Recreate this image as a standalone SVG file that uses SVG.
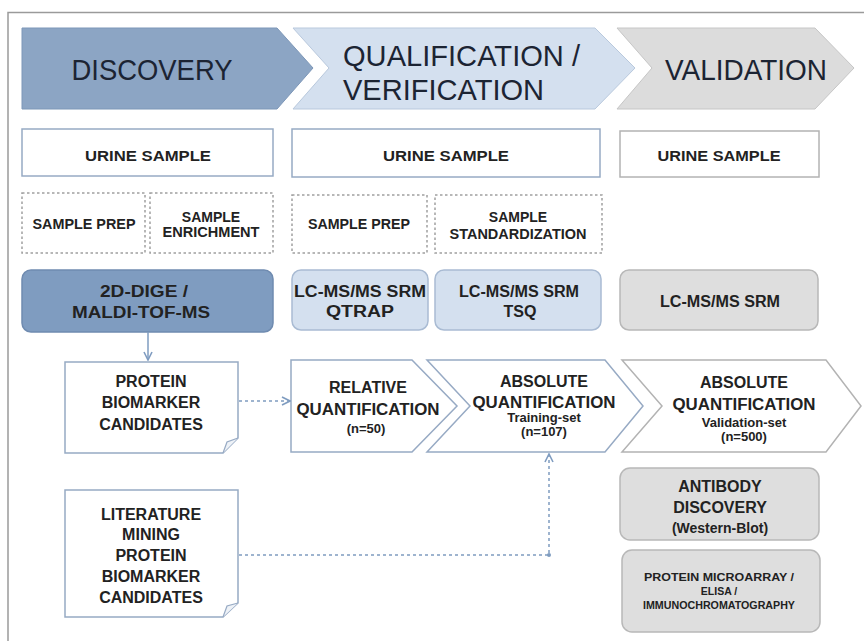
<svg xmlns="http://www.w3.org/2000/svg" width="864" height="641" viewBox="0 0 864 641">
<defs>
<style>
text{font-family:"Liberation Sans",Arial,sans-serif;fill:#222;text-anchor:middle}
.h{font-size:30px;fill:#1c2433}
.b{font-weight:bold;font-size:14px}
.m{font-weight:bold;font-size:16px}
.s{font-weight:bold;font-size:13px}
.xs{font-weight:bold;font-size:10.5px}
.white{fill:#fff;stroke:#97aac4;stroke-width:1.5}
.whiteg{fill:#fff;stroke:#b3b3b3;stroke-width:1.5}
.dash{fill:#fff;stroke:#a0a0a0;stroke-width:1.5;stroke-dasharray:2.5 2.5}
.dark{fill:#7f9cc0;stroke:#6f8bb0;stroke-width:1.5}
.light{fill:#d4e0ef;stroke:#a9bbd3;stroke-width:1.5}
.gray{fill:#dedede;stroke:#b8b8b8;stroke-width:1.5}
.conn{fill:none;stroke:#7f9cc0;stroke-width:1.5}
.dot{stroke-dasharray:3 3}
</style>
<marker id="arr" viewBox="0 0 10 10" refX="9" refY="5" markerWidth="10" markerHeight="10" markerUnits="userSpaceOnUse" orient="auto">
<path d="M1,1 L9,5 L1,9" fill="none" stroke="#7f9cc0" stroke-width="1.6"/>
</marker>
</defs>
<rect width="864" height="641" fill="#fff"/>
<path d="M8,641 V12.5 H864" fill="none" stroke="#9a9a9a" stroke-width="1.5"/>

<g id="hdr-discovery">
<path d="M22,28 H277 L313,68 L277,109 H22 Z" fill="#8ca5c4" stroke="#7d97b8" stroke-width="1"/>
<text class="h" x="152" y="80" textLength="161" lengthAdjust="spacingAndGlyphs">DISCOVERY</text>
</g>
<g id="hdr-qualification">
<path d="M293,28 H595 L635,68 L595,109 H293 L329,68 Z" fill="#d4e0ef" stroke="#b9c9dd" stroke-width="1"/>
<text class="h" x="343" y="66" style="text-anchor:start" textLength="237" lengthAdjust="spacingAndGlyphs">QUALIFICATION /</text>
<text class="h" x="343" y="100" style="text-anchor:start" textLength="201" lengthAdjust="spacingAndGlyphs">VERIFICATION</text>
</g>
<g id="hdr-validation">
<path d="M617,28 H815 L854,68 L815,109 H617 L652,68 Z" fill="#dcdcdc" stroke="#c6c6c6" stroke-width="1"/>
<text class="h" x="746" y="80" textLength="162" lengthAdjust="spacingAndGlyphs">VALIDATION</text>
</g>

<g id="urine1"><rect class="white" x="22" y="129" width="251" height="47"/><text class="b" x="148" y="161" textLength="126" lengthAdjust="spacingAndGlyphs">URINE SAMPLE</text></g>
<g id="urine2"><rect class="white" x="292" y="129" width="308" height="48"/><text class="b" x="446" y="161" textLength="126" lengthAdjust="spacingAndGlyphs">URINE SAMPLE</text></g>
<g id="urine3"><rect class="whiteg" x="620" y="131" width="199" height="46"/><text class="b" x="719" y="161" textLength="123" lengthAdjust="spacingAndGlyphs">URINE SAMPLE</text></g>

<g id="prep1"><rect class="dash" x="22" y="193" width="123" height="60"/><text class="b" x="84" y="229" textLength="103" lengthAdjust="spacingAndGlyphs">SAMPLE PREP</text></g>
<g id="enrich"><rect class="dash" x="150" y="193" width="123" height="60"/><text class="b" x="211" y="222">SAMPLE</text><text class="b" x="211" y="237" textLength="97" lengthAdjust="spacingAndGlyphs">ENRICHMENT</text></g>
<g id="prep2"><rect class="dash" x="292" y="195" width="135" height="58"/><text class="b" x="359" y="229" textLength="102" lengthAdjust="spacingAndGlyphs">SAMPLE PREP</text></g>
<g id="standard"><rect class="dash" x="435" y="195" width="167" height="58"/><text class="b" x="518" y="222">SAMPLE</text><text class="b" x="518" y="239" textLength="137" lengthAdjust="spacingAndGlyphs">STANDARDIZATION</text></g>

<g id="dige"><rect class="dark" x="22" y="270" width="251" height="62" rx="9"/><text class="m" x="144" y="297" textLength="88" lengthAdjust="spacingAndGlyphs">2D-DIGE /</text><text class="m" x="141" y="318" textLength="138" lengthAdjust="spacingAndGlyphs">MALDI-TOF-MS</text></g>
<g id="qtrap"><rect class="light" x="292" y="270" width="136" height="60" rx="9"/><text class="m" x="360" y="297" textLength="132" lengthAdjust="spacingAndGlyphs">LC-MS/MS SRM</text><text class="m" x="360" y="317" textLength="68" lengthAdjust="spacingAndGlyphs">QTRAP</text></g>
<g id="tsq"><rect class="light" x="435" y="270" width="166" height="60" rx="9"/><text class="m" x="519" y="297" textLength="120" lengthAdjust="spacingAndGlyphs">LC-MS/MS SRM</text><text class="m" x="520" y="317">TSQ</text></g>
<g id="srm"><rect class="gray" x="620" y="270" width="198" height="60" rx="9"/><text class="m" x="720" y="307" textLength="120" lengthAdjust="spacingAndGlyphs">LC-MS/MS SRM</text></g>

<g id="candidates">
<path class="white" d="M65,362 H238 V438 L223,453 H65 Z"/>
<path d="M223,453 L227,442 L238,438" fill="#eef2f7" stroke="#97aac4" stroke-width="1.2"/>
<text class="m" x="151" y="387">PROTEIN</text><text class="m" x="151" y="408">BIOMARKER</text><text class="m" x="151" y="430">CANDIDATES</text>
</g>
<g id="literature">
<path class="white" d="M65,490 H238 V603 L223,617 H65 Z"/>
<path d="M223,617 L227,606 L238,603" fill="#eef2f7" stroke="#97aac4" stroke-width="1.2"/>
<text class="m" x="151" y="520">LITERATURE</text><text class="m" x="151" y="540">MINING</text><text class="m" x="151" y="561">PROTEIN</text><text class="m" x="151" y="582">BIOMARKER</text><text class="m" x="151" y="603">CANDIDATES</text>
</g>

<g id="relative">
<path class="white" d="M291,360 H412 L457,406 L412,452 H291 Z"/>
<text class="m" x="368" y="393">RELATIVE</text><text class="m" x="368" y="415" textLength="143" lengthAdjust="spacingAndGlyphs">QUANTIFICATION</text><text class="s" x="366" y="433">(n=50)</text>
</g>
<g id="abs-training">
<path class="white" d="M427,360 H605 L643,406 L605,452 H427 L470,406 Z"/>
<text class="m" x="544" y="387">ABSOLUTE</text><text class="m" x="544" y="408" textLength="143" lengthAdjust="spacingAndGlyphs">QUANTIFICATION</text><text class="s" x="544" y="422">Training-set</text><text class="s" x="544" y="436">(n=107)</text>
</g>
<g id="abs-validation">
<path class="whiteg" d="M622,360 H826 L861,406 L826,452 H622 L662,406 Z"/>
<text class="m" x="744" y="388">ABSOLUTE</text><text class="m" x="744" y="410" textLength="143" lengthAdjust="spacingAndGlyphs">QUANTIFICATION</text><text class="s" x="744" y="427">Validation-set</text><text class="s" x="744" y="441">(n=500)</text>
</g>

<g id="antibody"><rect class="gray" x="620" y="468" width="199" height="72" rx="10"/><text class="m" x="720" y="492">ANTIBODY</text><text class="m" x="720" y="513">DISCOVERY</text><text class="s" x="720" y="533" style="font-size:14px">(Western-Blot)</text></g>
<g id="microarray"><rect class="gray" x="622" y="550" width="198" height="82" rx="10"/><text class="xs" x="719" y="581" textLength="150" lengthAdjust="spacingAndGlyphs">PROTEIN MICROARRAY /</text><text class="xs" x="719" y="595">ELISA /</text><text class="xs" x="719" y="609" textLength="152" lengthAdjust="spacingAndGlyphs">IMMUNOCHROMATOGRAPHY</text></g>

<g id="connectors">
<path class="conn" d="M148,332 V360" marker-end="url(#arr)"/>
<path class="conn dot" d="M239,401 H290" marker-end="url(#arr)"/>
<path class="conn dot" d="M239,555 H549 V454" marker-end="url(#arr)"/>
<circle cx="549" cy="555" r="2" fill="#7f9cc0"/>
</g>
</svg>
